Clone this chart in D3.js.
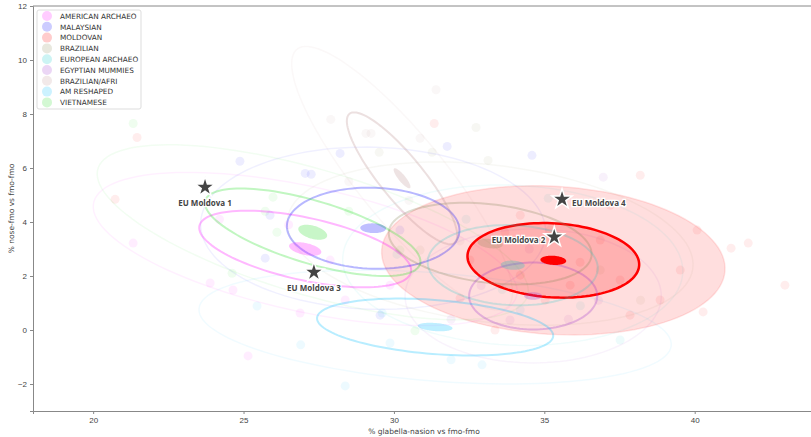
<!DOCTYPE html>
<html>
<head>
<meta charset="utf-8">
<script src="https://cdn.jsdelivr.net/npm/d3@7"></script>
<style>
  body { margin: 0; background: #fff; }
  svg { display: block; font-family: "DejaVu Sans", sans-serif; }
  .tick text { fill: #444; font-size: 8px; }
  .tick line, .domain { stroke: #888; }
</style>
</head>
<body>
<svg class="chart" width="811" height="437"></svg>
<script>
// groups and their colours
const groups = ['AMERICAN ARCHAEO', 'MALAYSIAN', 'MOLDOVAN', 'BRAZILIAN', 'EUROPEAN ARCHAEO',
  'EGYPTIAN MUMMIES', 'BRAZILIAN/AFRI', 'AM RESHAPED', 'VIETNAMESE'];
const colors = ['#ff00ff', '#0000ff', '#ff0000', '#8a8a5c', '#00c8c8',
  '#9932cc', '#bc8f8f', '#00bfff', '#22dd22'];

// group means
const meanX = [27.05, 29.31, 35.3, 33.2, 33.95, 34.63, 30.27, 31.37, 27.3];
const meanY = [3.0, 3.77, 2.58, 3.2, 2.4, 1.26, 5.62, 0.11, 3.62];
// 1-sd ellipse: semi axes and angle (degrees, data space)
const sdMajor = [3.62, 2.87, 2.86, 3.4, 2.83, 2.13, 2.96, 3.94, 3.76];
const sdMinor = [1.15, 1.5, 1.37, 1.45, 1.48, 1.24, 0.75, 1.0, 1.15];
const sdAngle = [-14, -2, -4, -8, -3, 0, 125.8, -5, -18.6];
// small ellipse of the mean
const seMajor = [0.55, 0.43, 0.43, 0.42, 0.4, 0.3, 0.45, 0.58, 0.5];
const seMinor = [0.22, 0.18, 0.17, 0.17, 0.17, 0.14, 0.12, 0.15, 0.24];

// individual measurements per group [x, y]
const points = [
  [[21.33, 3.22], [23.89, 1.74], [24.65, 1.48], [26.88, 0.63], [25.15, -0.96], [28.38, 1.11], [29.87, 1.66], [27.88, 2.59], [26.5, 3.9], [24.2, 4.1]],
  [[24.88, 6.25], [27.05, 5.8], [27.25, 5.77], [25.88, 4.25], [29.54, 0.55], [31.77, 6.8], [34.59, 6.47], [28.21, 6.54], [30.2, 3.7], [25.72, 2.66]],
  [[31.34, 7.65], [21.46, 7.13], [20.73, 4.84], [41.21, 3.03], [41.78, 3.22], [43.0, 1.66], [38.19, 5.73], [40.08, 3.7], [37.85, 0.55], [38.85, 1.11],
   [40.28, 0.67], [32.2, 1.18], [33.36, 0.0], [35.86, 1.66], [36.86, 3.33], [34.2, 2.03], [36.19, 2.51], [33.69, 3.62], [37.52, 1.85], [35.03, 1.11],
   [32.53, 2.59], [39.52, 2.22], [37.19, 4.62], [34.2, 4.25]],
  [[29.51, 6.58], [32.73, 7.5], [33.13, 6.28], [31.27, 6.58], [35.19, 3.7], [36.86, 2.22], [30.87, 2.96], [38.2, 1.1]],
  [[35.13, 4.88], [37.52, -0.37], [30.1, 2.8], [33.6, 1.5], [32.4, 4.1], [36.2, 0.9]],
  [[36.96, 5.66], [33.86, 0.37], [35.8, 0.4], [32.9, 1.65], [36.8, 1.1], [34.5, 3.0], [31.9, 0.4]],
  [[29.07, 7.28], [29.24, 7.28], [30.87, 7.1], [28.5, 5.5], [30.5, 4.8], [32.2, 3.3], [27.9, 7.8], [31.4, 8.9]],
  [[29.87, -0.48], [28.38, -2.07], [26.9, -0.55], [31.9, -1.1], [34.2, 0.74], [25.45, 0.89], [32.93, -1.29], [29.61, 0.63]],
  [[21.33, 7.65], [25.72, 4.4], [26.11, 3.62], [25.98, 4.92], [24.62, 2.1], [30.7, -0.03], [28.5, 4.4], [30.2, 2.96]]
];

// reference individuals
const starNames = ['EU Moldova 1', 'EU Moldova 2', 'EU Moldova 3', 'EU Moldova 4'];
const starX = [23.72, 35.33, 27.34, 35.59];
const starY = [5.29, 3.44, 2.14, 4.84];
const starAnchor = ['below', 'left', 'below', 'right'];

const xTicks = [20, 25, 30, 35, 40];
const yTicks = [-2, 0, 2, 4, 6, 8, 10, 12];

const svg = d3.select('.chart');
const x = d3.scaleLinear().domain([18, 44]).range([33, 815]);
const y = d3.scaleLinear().domain([-3, 12]).range([411, 6]);

const ellipse = (mx, my, a, b, deg) => {
  const th = deg * Math.PI / 180;
  return d3.line().curve(d3.curveLinearClosed)(d3.range(0, 360, 3).map(t => {
    const r = t * Math.PI / 180;
    const dx = a * Math.cos(r) * Math.cos(th) - b * Math.sin(r) * Math.sin(th);
    const dy = a * Math.cos(r) * Math.sin(th) + b * Math.sin(r) * Math.cos(th);
    return [x(mx + dx), y(my + dy)];
  }));
};

// axes
svg.append('g').attr('transform', `translate(0,${y(-3)})`)
  .call(d3.axisBottom(x).tickValues(xTicks).tickSize(3).tickPadding(3));
svg.append('g').attr('transform', `translate(${x(18)},0)`)
  .call(d3.axisLeft(y).tickValues(yTicks).tickSize(3).tickPadding(3)
    .tickFormat(d => d < 0 ? '\u2212' + Math.abs(d) : d));
svg.append('line').attr('x1', x(18)).attr('x2', 811).attr('y1', y(12)).attr('y2', y(12))
  .attr('stroke', '#888');

svg.append('text').attr('x', (x(18) + x(44)) / 2).attr('y', 434).attr('text-anchor', 'middle')
  .attr('font-size', 7.5).attr('fill', '#444').text('% glabella-nasion vs fmo-fmo');
svg.append('text').attr('transform', `translate(14,${(y(-3) + y(12)) / 2}) rotate(-90)`)
  .attr('text-anchor', 'middle').attr('font-size', 7.5).attr('fill', '#444')
  .text('% nose-fmo vs fmo-fmo');

const plot = svg.append('g');
const idx = d3.range(groups.length);

// scatter points
idx.forEach(i => {
  plot.selectAll(null).data(points[i]).enter().append('circle')
    .attr('cx', d => x(d[0])).attr('cy', d => y(d[1])).attr('r', 4.5)
    .attr('fill', colors[i]).attr('fill-opacity', 0.07);
});

// 2-sd ellipses
idx.forEach(i => {
  const moldo = groups[i] === 'MOLDOVAN';
  plot.append('path')
    .attr('d', ellipse(meanX[i], meanY[i], 2 * sdMajor[i], 2 * sdMinor[i], sdAngle[i]))
    .attr('fill', moldo ? colors[i] : 'none').attr('fill-opacity', 0.13)
    .attr('stroke', colors[i]).attr('stroke-opacity', moldo ? 0.1 : 0.06).attr('stroke-width', 1.5);
});

// 1-sd ellipses
idx.forEach(i => {
  const moldo = groups[i] === 'MOLDOVAN';
  plot.append('path')
    .attr('d', ellipse(meanX[i], meanY[i], sdMajor[i], sdMinor[i], sdAngle[i]))
    .attr('fill', moldo ? colors[i] : 'none').attr('fill-opacity', 0.2)
    .attr('stroke', colors[i]).attr('stroke-opacity', moldo ? 1 : (groups[i] === 'EUROPEAN ARCHAEO' ? 0.2 : 0.28))
    .attr('stroke-width', moldo ? 2.5 : 2);
});

// mean ellipses
idx.forEach(i => {
  const moldo = groups[i] === 'MOLDOVAN';
  plot.append('path')
    .attr('d', ellipse(meanX[i], meanY[i], seMajor[i], seMinor[i], sdAngle[i]))
    .attr('fill', colors[i]).attr('fill-opacity', moldo ? 1 : 0.25);
});

// stars
const stars = svg.append('g');
starNames.forEach((n, i) => {
  stars.append('path').attr('d', d3.symbol(d3.symbolStar, 125)())
    .attr('transform', `translate(${x(starX[i])},${y(starY[i])})`)
    .attr('fill', '#444').attr('stroke', '#fff').attr('stroke-width', 1.5);
  const sx = x(starX[i]), sy = y(starY[i]);
  const pos = {
    below: [sx, sy + 19, 'middle'],
    left: [sx - 9, sy + 6, 'end'],
    right: [sx + 10, sy + 7, 'start']
  }[starAnchor[i]];
  stars.append('text').attr('x', pos[0]).attr('y', pos[1]).attr('text-anchor', pos[2])
    .attr('font-family', 'Open Sans').attr('font-weight', 700).attr('font-size', 8)
    .attr('fill', '#444').attr('stroke', '#fff').attr('stroke-width', 2.5)
    .attr('paint-order', 'stroke').text(n);
});

// legend
const lg = svg.append('g').attr('transform', 'translate(37,10)');
lg.append('rect').attr('width', 104).attr('height', 99).attr('rx', 2)
  .attr('fill', '#fff').attr('fill-opacity', 0.8).attr('stroke', '#ddd');
groups.forEach((g, i) => {
  lg.append('circle').attr('cx', 10).attr('cy', 6 + i * 10.8).attr('r', 5)
    .attr('fill', colors[i]).attr('fill-opacity', 0.2);
  lg.append('text').attr('x', 23).attr('y', 6 + i * 10.8 + 2.7).attr('font-size', 7.3)
    .attr('fill', '#333').text(g);
});
</script>
</body>
</html>
